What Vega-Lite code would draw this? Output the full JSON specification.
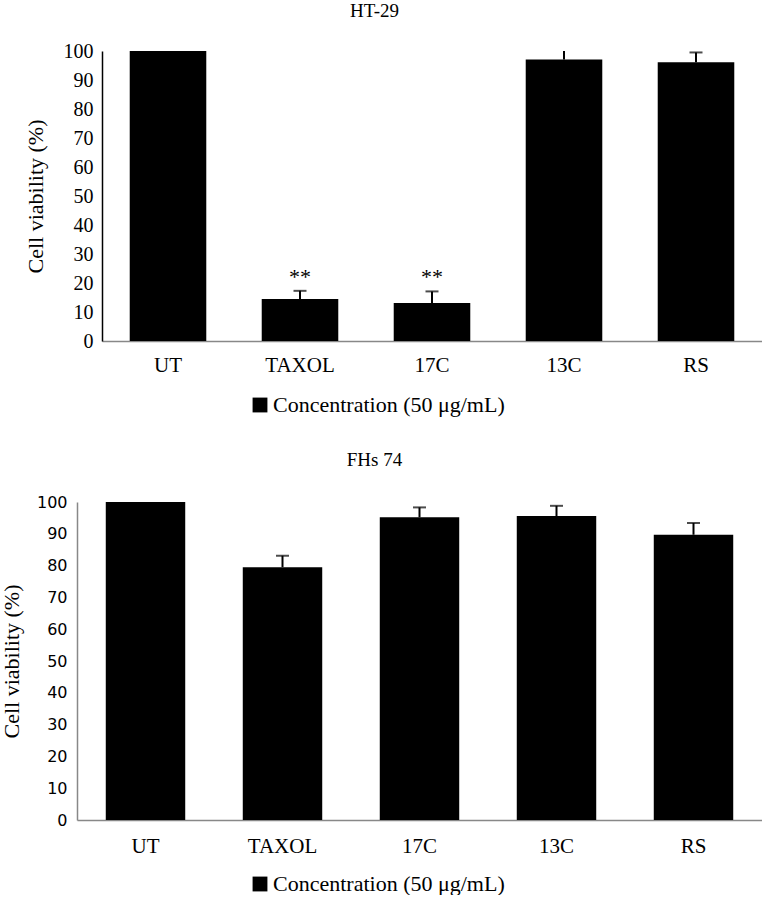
{
  "$schema": "https://vega.github.io/schema/vega-lite/v6.json",
  "padding": {"left": 0, "top": 2, "right": 0, "bottom": 0},
  "background": "white",
  "config": {
    "view": {"stroke": null},
    "font": "Liberation Serif",
    "title": {"font": "Liberation Serif", "fontSize": 19, "fontWeight": "normal", "color": "#000"}
  },
  "spacing": 35,
  "vconcat": [
    {
      "title": {"text": "HT-29", "dx": -45, "offset": 5},
      "width": 685,
      "height": 290,
      "data": {"values": [
        {"group": "UT", "value": 100, "upper": null, "cap": false, "sig": "", "series": "Concentration (50 μg/mL)"},
        {"group": "TAXOL", "value": 14.5, "upper": 17.3, "cap": true, "sig": "**", "series": "Concentration (50 μg/mL)"},
        {"group": "17C", "value": 13.1, "upper": 17.1, "cap": true, "sig": "**", "series": "Concentration (50 μg/mL)"},
        {"group": "13C", "value": 97.1, "upper": 100.0, "cap": false, "sig": "", "series": "Concentration (50 μg/mL)"},
        {"group": "RS", "value": 96.1, "upper": 99.5, "cap": true, "sig": "", "series": "Concentration (50 μg/mL)"}
      ]},
      "encoding": {
        "x": {"field": "group", "type": "nominal", "sort": null,
          "scale": {"range": [25, 685], "paddingInner": 0.42, "paddingOuter": 0.21},
          "axis": {"title": null, "labelAngle": 0, "ticks": false, "labelFont": "Liberation Serif", "labelFontSize": 21, "labelColor": "#000", "labelPadding": 13, "domainColor": "#888", "domainWidth": 1.5}}
      },
      "layer": [
        {
          "mark": {"type": "bar"},
          "encoding": {
            "y": {"field": "value", "type": "quantitative",
              "scale": {"domain": [0, 100], "nice": false},
              "axis": {"title": "Cell viability (%)", "titleFont": "Liberation Serif", "titleFontSize": 22, "titleFontWeight": "normal", "titleColor": "#000", "titlePadding": 16,
                "values": [0, 10, 20, 30, 40, 50, 60, 70, 80, 90, 100], "labelOverlap": false, "grid": false, "ticks": false, "offset": -25,
                "labelFont": "Liberation Serif", "labelFontSize": 20, "labelColor": "#000", "labelPadding": 9, "domainColor": "#000", "domainWidth": 1.5}},
            "color": {"field": "series", "type": "nominal",
              "scale": {"range": ["#000000"]},
              "legend": {"title": null, "orient": "none", "legendX": 172, "legendY": 343, "symbolType": "square", "symbolSize": 220, "symbolStrokeWidth": 0,
                "labelFont": "Liberation Serif", "labelFontSize": 22, "labelColor": "#000", "labelLimit": 0, "labelOffset": 2}}
          }
        },
        {
          "mark": {"type": "rule", "color": "#000", "strokeWidth": 2},
          "encoding": {
            "y": {"field": "value", "type": "quantitative",
              "axis": {"title": "Cell viability (%)", "titleFont": "Liberation Serif", "titleFontSize": 22, "titleFontWeight": "normal", "titleColor": "#000", "titlePadding": 16,
                "values": [0, 10, 20, 30, 40, 50, 60, 70, 80, 90, 100], "labelOverlap": false, "grid": false, "ticks": false, "offset": -25,
                "labelFont": "Liberation Serif", "labelFontSize": 20, "labelColor": "#000", "labelPadding": 9, "domainColor": "#000", "domainWidth": 1.5}},
            "y2": {"field": "upper"}}
        },
        {
          "transform": [{"filter": "datum.cap"}],
          "mark": {"type": "tick", "color": "#000", "thickness": 2, "size": 13},
          "encoding": {
            "y": {"field": "upper", "type": "quantitative",
              "axis": {"title": "Cell viability (%)", "titleFont": "Liberation Serif", "titleFontSize": 22, "titleFontWeight": "normal", "titleColor": "#000", "titlePadding": 16,
                "values": [0, 10, 20, 30, 40, 50, 60, 70, 80, 90, 100], "labelOverlap": false, "grid": false, "ticks": false, "offset": -25,
                "labelFont": "Liberation Serif", "labelFontSize": 20, "labelColor": "#000", "labelPadding": 9, "domainColor": "#000", "domainWidth": 1.5}}}
        },
        {
          "mark": {"type": "text", "font": "Liberation Serif", "fontSize": 22, "baseline": "bottom", "dy": -2, "color": "#000"},
          "encoding": {
            "y": {"field": "upper", "type": "quantitative",
              "axis": {"title": "Cell viability (%)", "titleFont": "Liberation Serif", "titleFontSize": 22, "titleFontWeight": "normal", "titleColor": "#000", "titlePadding": 16,
                "values": [0, 10, 20, 30, 40, 50, 60, 70, 80, 90, 100], "labelOverlap": false, "grid": false, "ticks": false, "offset": -25,
                "labelFont": "Liberation Serif", "labelFontSize": 20, "labelColor": "#000", "labelPadding": 9, "domainColor": "#000", "domainWidth": 1.5}},
            "text": {"field": "sig"}}
        }
      ]
    },
    {
      "title": {"text": "FHs 74", "dx": -45, "offset": 24},
      "width": 685,
      "height": 318,
      "data": {"values": [
        {"group": "UT", "value": 100, "upper": null, "cap": false, "series": "Concentration (50 μg/mL)"},
        {"group": "TAXOL", "value": 79.5, "upper": 83.1, "cap": true, "series": "Concentration (50 μg/mL)"},
        {"group": "17C", "value": 95.2, "upper": 98.3, "cap": true, "series": "Concentration (50 μg/mL)"},
        {"group": "13C", "value": 95.6, "upper": 98.8, "cap": true, "series": "Concentration (50 μg/mL)"},
        {"group": "RS", "value": 89.7, "upper": 93.4, "cap": true, "series": "Concentration (50 μg/mL)"}
      ]},
      "encoding": {
        "x": {"field": "group", "type": "nominal", "sort": null,
          "scale": {"paddingInner": 0.42, "paddingOuter": 0.21},
          "axis": {"title": null, "labelAngle": 0, "ticks": false, "labelFont": "Liberation Serif", "labelFontSize": 21, "labelColor": "#000", "labelPadding": 15, "domainColor": "#888", "domainWidth": 1.5}}
      },
      "layer": [
        {
          "mark": {"type": "bar"},
          "encoding": {
            "y": {"field": "value", "type": "quantitative",
              "scale": {"domain": [0, 100], "nice": false},
              "axis": {"title": "Cell viability (%)", "titleFont": "Liberation Serif", "titleFontSize": 22, "titleFontWeight": "normal", "titleColor": "#000", "titlePadding": 13,
                "values": [0, 10, 20, 30, 40, 50, 60, 70, 80, 90, 100], "labelOverlap": false, "grid": false, "ticks": false,
                "labelFont": "DejaVu Sans", "labelFontSize": 16, "labelColor": "#000", "labelPadding": 10, "domainColor": "#888", "domainWidth": 1.5}},
            "color": {"field": "series", "type": "nominal",
              "scale": {"range": ["#000000"]},
              "legend": {"title": null, "orient": "none", "legendX": 172, "legendY": 371, "symbolType": "square", "symbolSize": 220, "symbolStrokeWidth": 0,
                "labelFont": "Liberation Serif", "labelFontSize": 22, "labelColor": "#000", "labelLimit": 0, "labelOffset": 2}}
          }
        },
        {
          "mark": {"type": "rule", "color": "#000", "strokeWidth": 2},
          "encoding": {
            "y": {"field": "value", "type": "quantitative",
              "axis": {"title": "Cell viability (%)", "titleFont": "Liberation Serif", "titleFontSize": 22, "titleFontWeight": "normal", "titleColor": "#000", "titlePadding": 13,
                "values": [0, 10, 20, 30, 40, 50, 60, 70, 80, 90, 100], "labelOverlap": false, "grid": false, "ticks": false,
                "labelFont": "DejaVu Sans", "labelFontSize": 16, "labelColor": "#000", "labelPadding": 10, "domainColor": "#888", "domainWidth": 1.5}},
            "y2": {"field": "upper"}}
        },
        {
          "transform": [{"filter": "datum.cap"}],
          "mark": {"type": "tick", "color": "#000", "thickness": 2, "size": 13},
          "encoding": {
            "y": {"field": "upper", "type": "quantitative",
              "axis": {"title": "Cell viability (%)", "titleFont": "Liberation Serif", "titleFontSize": 22, "titleFontWeight": "normal", "titleColor": "#000", "titlePadding": 13,
                "values": [0, 10, 20, 30, 40, 50, 60, 70, 80, 90, 100], "labelOverlap": false, "grid": false, "ticks": false,
                "labelFont": "DejaVu Sans", "labelFontSize": 16, "labelColor": "#000", "labelPadding": 10, "domainColor": "#888", "domainWidth": 1.5}}}
        }
      ]
    }
  ],
  "resolve": {"scale": {"color": "independent", "x": "independent", "y": "independent"}, "legend": {"color": "independent"}}
}
